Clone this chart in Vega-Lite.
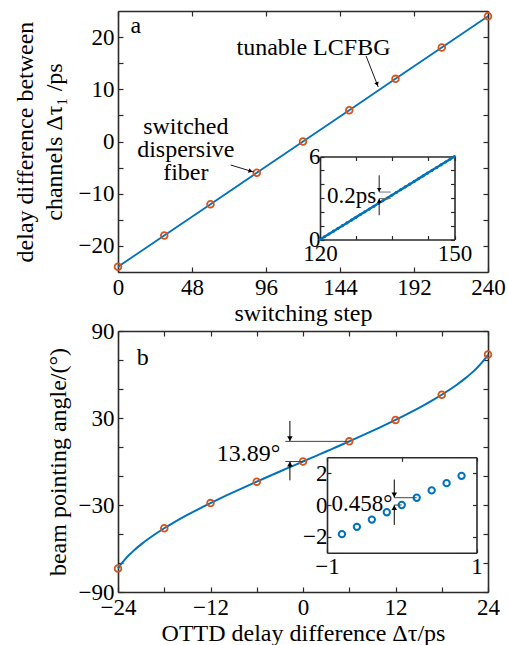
{
  "$schema": "https://vega.github.io/schema/vega-lite/v6.json",
  "background": "white",
  "padding": {"left": 13, "top": 9, "right": 5, "bottom": 5},
  "spacing": 59,
  "bounds": "flush",
  "config": {
    "view": {"stroke": null},
    "font": "Liberation Serif",
    "axis": {
      "grid": false,
      "labelFont": "Liberation Serif",
      "titleFont": "Liberation Serif",
      "labelFontSize": 23,
      "titleFontSize": 24,
      "titleFontWeight": "normal",
      "labelColor": "black",
      "titleColor": "black",
      "domainColor": "#2a2a2a",
      "domainWidth": 1.6,
      "tickColor": "#2a2a2a",
      "tickWidth": 1.2,
      "tickSize": -5,
      "labelPadding": 9,
      "labelFlush": false,
      "labelOverlap": false,
      "labelBound": false
    },
    "text": {"font": "Liberation Serif"}
  },
  "datasets": {
    "a_pts": [
      {"step": 0, "delay": -24}, {"step": 30, "delay": -18}, {"step": 60, "delay": -12},
      {"step": 90, "delay": -6}, {"step": 120, "delay": 0}, {"step": 150, "delay": 6},
      {"step": 180, "delay": 12}, {"step": 210, "delay": 18}, {"step": 240, "delay": 24}
    ],
    "a_inset": [
      {"step": 120, "delay": 0}, {"step": 121, "delay": 0.2}, {"step": 122, "delay": 0.4},
      {"step": 123, "delay": 0.6}, {"step": 124, "delay": 0.8}, {"step": 125, "delay": 1.0},
      {"step": 126, "delay": 1.2}, {"step": 127, "delay": 1.4}, {"step": 128, "delay": 1.6},
      {"step": 129, "delay": 1.8}, {"step": 130, "delay": 2.0}, {"step": 131, "delay": 2.2},
      {"step": 132, "delay": 2.4}, {"step": 133, "delay": 2.6}, {"step": 134, "delay": 2.8},
      {"step": 135, "delay": 3.0}, {"step": 136, "delay": 3.2}, {"step": 137, "delay": 3.4},
      {"step": 138, "delay": 3.6}, {"step": 139, "delay": 3.8}, {"step": 140, "delay": 4.0},
      {"step": 141, "delay": 4.2}, {"step": 142, "delay": 4.4}, {"step": 143, "delay": 4.6},
      {"step": 144, "delay": 4.8}, {"step": 145, "delay": 5.0}, {"step": 146, "delay": 5.2},
      {"step": 147, "delay": 5.4}, {"step": 148, "delay": 5.6}, {"step": 149, "delay": 5.8},
      {"step": 150, "delay": 6.0}
    ],
    "b_curve": [
      {"tau": -24, "ang": -73.74}, {"tau": -23.75, "ang": -71.81}, {"tau": -23.5, "ang": -70.05},
      {"tau": -23, "ang": -66.93}, {"tau": -22.5, "ang": -64.16}, {"tau": -22, "ang": -61.64},
      {"tau": -21, "ang": -57.14}, {"tau": -20, "ang": -53.13}, {"tau": -19, "ang": -49.46},
      {"tau": -18, "ang": -46.05}, {"tau": -17, "ang": -42.84}, {"tau": -16, "ang": -39.79},
      {"tau": -15, "ang": -36.87}, {"tau": -14, "ang": -34.06}, {"tau": -13, "ang": -31.33},
      {"tau": -12, "ang": -28.69}, {"tau": -11, "ang": -26.10}, {"tau": -10, "ang": -23.58},
      {"tau": -9, "ang": -21.10}, {"tau": -8, "ang": -18.66}, {"tau": -7, "ang": -16.26},
      {"tau": -6, "ang": -13.89}, {"tau": -5, "ang": -11.54}, {"tau": -4, "ang": -9.21},
      {"tau": -3, "ang": -6.89}, {"tau": -2, "ang": -4.59}, {"tau": -1, "ang": -2.29},
      {"tau": 0, "ang": 0},
      {"tau": 1, "ang": 2.29}, {"tau": 2, "ang": 4.59}, {"tau": 3, "ang": 6.89},
      {"tau": 4, "ang": 9.21}, {"tau": 5, "ang": 11.54}, {"tau": 6, "ang": 13.89},
      {"tau": 7, "ang": 16.26}, {"tau": 8, "ang": 18.66}, {"tau": 9, "ang": 21.10},
      {"tau": 10, "ang": 23.58}, {"tau": 11, "ang": 26.10}, {"tau": 12, "ang": 28.69},
      {"tau": 13, "ang": 31.33}, {"tau": 14, "ang": 34.06}, {"tau": 15, "ang": 36.87},
      {"tau": 16, "ang": 39.79}, {"tau": 17, "ang": 42.84}, {"tau": 18, "ang": 46.05},
      {"tau": 19, "ang": 49.46}, {"tau": 20, "ang": 53.13}, {"tau": 21, "ang": 57.14},
      {"tau": 22, "ang": 61.64}, {"tau": 22.5, "ang": 64.16}, {"tau": 23, "ang": 66.93},
      {"tau": 23.5, "ang": 70.05}, {"tau": 23.75, "ang": 71.81}, {"tau": 24, "ang": 73.74}
    ],
    "b_pts": [
      {"tau": -24, "ang": -73.74}, {"tau": -18, "ang": -46.05}, {"tau": -12, "ang": -28.69},
      {"tau": -6, "ang": -13.89}, {"tau": 0, "ang": 0}, {"tau": 6, "ang": 13.89},
      {"tau": 12, "ang": 28.69}, {"tau": 18, "ang": 46.05}, {"tau": 24, "ang": 73.74}
    ],
    "b_inset": [
      {"tau": -0.8, "ang": -1.834}, {"tau": -0.6, "ang": -1.375}, {"tau": -0.4, "ang": -0.917},
      {"tau": -0.2, "ang": -0.458}, {"tau": 0, "ang": 0}, {"tau": 0.2, "ang": 0.458},
      {"tau": 0.4, "ang": 0.917}, {"tau": 0.6, "ang": 1.375}, {"tau": 0.8, "ang": 1.834}
    ]
  },
  "vconcat": [
    {
      "width": 370,
      "height": 261,
      "resolve": {"scale": {"x": "independent", "y": "independent"}, "axis": {"x": "independent", "y": "independent"}},
      "layer": [
        {
          "data": {"name": "a_pts"},
          "mark": {"type": "line", "color": "#0072BD", "strokeWidth": 1.8},
          "encoding": {
            "x": {"field": "step", "type": "quantitative", "scale": {"domain": [0, 240], "nice": false, "zero": false},
                  "axis": {"orient": "bottom", "values": [0, 48, 96, 144, 192, 240], "title": "switching step", "titlePadding": 2}},
            "y": {"field": "delay", "type": "quantitative", "scale": {"domain": [-25, 25], "nice": false, "zero": false},
                  "axis": {"orient": "left", "values": [-20, -15, -10, -5, 0, 5, 10, 15, 20],
                           "labelExpr": "datum.value % 10 == 0 ? datum.label : ''",
                           "title": ["delay difference between", "channels Δτ₁ /ps"], "titleLineHeight": 29, "titlePadding": 12}}
          }
        },
        {
          "data": {"name": "a_pts"},
          "mark": {"type": "point", "shape": "circle", "filled": false, "color": "#D95319", "strokeWidth": 1.8, "size": 45, "opacity": 1},
          "encoding": {
            "x": {"field": "step", "type": "quantitative", "scale": {"domain": [0, 240], "nice": false, "zero": false},
                  "axis": {"orient": "top", "values": [0, 48, 96, 144, 192, 240], "labels": false, "title": null}},
            "y": {"field": "delay", "type": "quantitative", "scale": {"domain": [-25, 25], "nice": false, "zero": false},
                  "axis": {"orient": "right", "values": [-20, -15, -10, -5, 0, 5, 10, 15, 20], "labels": false, "title": null}}
          }
        },
        {
          "data": {"values": [
            {"x": 11.6, "y": 22.1, "t": "a"},
            {"x": 126.8, "y": 17.9, "t": "tunable LCFBG"},
            {"x": 44, "y": 2.78, "t": "switched\ndispersive\nfiber"}
          ]},
          "mark": {"type": "text", "fontSize": 24, "align": "center", "baseline": "middle", "lineHeight": 23, "lineBreak": "\n", "color": "black"},
          "encoding": {
            "x": {"field": "x", "type": "quantitative", "scale": {"domain": [0, 240], "nice": false, "zero": false}, "axis": null},
            "y": {"field": "y", "type": "quantitative", "scale": {"domain": [-25, 25], "nice": false, "zero": false}, "axis": null},
            "text": {"field": "t"}
          }
        },
        {
          "data": {"values": [
            {"x": 160.9, "y": 16.4, "x2": 168.8, "y2": 10.44},
            {"x": 73.1, "y": -4.5, "x2": 88, "y2": -5.84}
          ]},
          "mark": {"type": "rule", "color": "black", "strokeWidth": 0.9},
          "encoding": {
            "x": {"field": "x", "type": "quantitative", "scale": {"domain": [0, 240], "nice": false, "zero": false}, "axis": null},
            "y": {"field": "y", "type": "quantitative", "scale": {"domain": [-25, 25], "nice": false, "zero": false}, "axis": null},
            "x2": {"field": "x2"},
            "y2": {"field": "y2"}
          }
        },
        {
          "data": {"values": [
            {"x": 168.1, "y": 10.98, "ang": 158.4},
            {"x": 86.0, "y": -5.67, "ang": 106.9}
          ]},
          "mark": {"type": "point", "shape": "triangle-up", "filled": true, "color": "black", "size": 22, "opacity": 1},
          "encoding": {
            "x": {"field": "x", "type": "quantitative", "scale": {"domain": [0, 240], "nice": false, "zero": false}, "axis": null},
            "y": {"field": "y", "type": "quantitative", "scale": {"domain": [-25, 25], "nice": false, "zero": false}, "axis": null},
            "angle": {"field": "ang", "type": "quantitative", "scale": null}
          }
        },
        {
          "data": {"name": "a_inset"},
          "mark": {"type": "line", "color": "#0072BD", "strokeWidth": 2.4, "point": {"filled": true, "size": 10, "color": "#0072BD"}},
          "encoding": {
            "x": {"field": "step", "type": "quantitative", "scale": {"domain": [120, 150], "range": [202, 336.5], "nice": false, "zero": false},
                  "axis": {"orient": "bottom", "offset": -32.5, "values": [120, 128, 136, 144, 150],
                           "labelExpr": "datum.value == 120 || datum.value == 150 ? datum.label : ''", "title": null, "tickSize": -4, "labelPadding": 7}},
            "y": {"field": "delay", "type": "quantitative", "scale": {"domain": [0, 6], "range": [228.5, 145.5], "nice": false, "zero": false},
                  "axis": {"orient": "left", "offset": -202, "values": [0, 1, 2, 3, 4, 5, 6],
                           "labelExpr": "datum.value == 0 || datum.value == 6 ? datum.label : ''", "title": null, "tickSize": -4, "labelPadding": 4}}
          }
        },
        {
          "data": {"values": [
            {"x": 133.2, "y": 4.64, "x2": 133.2, "y2": 3.43, "c": "black"},
            {"x": 133.2, "y": 1.75, "x2": 133.2, "y2": 2.96, "c": "black"},
            {"x": 133.2, "y": 3.43, "x2": 135.8, "y2": 3.43, "c": "#666666"},
            {"x": 133.2, "y": 2.96, "x2": 135.8, "y2": 2.96, "c": "#666666"}
          ]},
          "mark": {"type": "rule", "strokeWidth": 0.9},
          "encoding": {
            "x": {"field": "x", "type": "quantitative", "scale": {"domain": [120, 150], "range": [202, 336.5], "nice": false, "zero": false},
                  "axis": {"orient": "top", "offset": -145.5, "values": [120, 128, 136, 144, 150], "labels": false, "title": null, "tickSize": -4}},
            "y": {"field": "y", "type": "quantitative", "scale": {"domain": [0, 6], "range": [228.5, 145.5], "nice": false, "zero": false},
                  "axis": {"orient": "right", "offset": -33.5, "values": [0, 1, 2, 3, 4, 5, 6], "labels": false, "title": null, "tickSize": -4}},
            "x2": {"field": "x2"},
            "y2": {"field": "y2"},
            "color": {"field": "c", "type": "nominal", "scale": null}
          }
        },
        {
          "data": {"values": [
            {"x": 133.2, "y": 3.59, "ang": 180},
            {"x": 133.2, "y": 2.80, "ang": 0}
          ]},
          "mark": {"type": "point", "shape": "triangle-up", "filled": true, "color": "black", "size": 20, "opacity": 1},
          "encoding": {
            "x": {"field": "x", "type": "quantitative", "scale": {"domain": [120, 150], "range": [202, 336.5], "nice": false, "zero": false}, "axis": null},
            "y": {"field": "y", "type": "quantitative", "scale": {"domain": [0, 6], "range": [228.5, 145.5], "nice": false, "zero": false}, "axis": null},
            "angle": {"field": "ang", "type": "quantitative", "scale": null}
          }
        },
        {
          "data": {"values": [{"x": 127.05, "y": 3.14, "t": "0.2ps"}]},
          "mark": {"type": "text", "fontSize": 23, "align": "center", "baseline": "middle", "color": "black"},
          "encoding": {
            "x": {"field": "x", "type": "quantitative", "scale": {"domain": [120, 150], "range": [202, 336.5], "nice": false, "zero": false}, "axis": null},
            "y": {"field": "y", "type": "quantitative", "scale": {"domain": [0, 6], "range": [228.5, 145.5], "nice": false, "zero": false}, "axis": null},
            "text": {"field": "t"}
          }
        }
      ]
    },
    {
      "width": 370,
      "height": 261,
      "resolve": {"scale": {"x": "independent", "y": "independent"}, "axis": {"x": "independent", "y": "independent"}},
      "layer": [
        {
          "data": {"name": "b_curve"},
          "mark": {"type": "line", "color": "#0072BD", "strokeWidth": 2, "interpolate": "monotone"},
          "encoding": {
            "x": {"field": "tau", "type": "quantitative", "scale": {"domain": [-24, 24], "nice": false, "zero": false},
                  "axis": {"orient": "bottom", "values": [-24, -18, -12, -6, 0, 6, 12, 18, 24],
                           "labelExpr": "datum.value % 12 == 0 ? datum.label : ''",
                           "title": "OTTD delay difference Δτ/ps", "titlePadding": 2}},
            "y": {"field": "ang", "type": "quantitative", "scale": {"domain": [-90, 90], "nice": false, "zero": false},
                  "axis": {"orient": "left", "values": [-90, -70, -50, -30, -10, 10, 30, 50, 70, 90],
                           "labelExpr": "abs(datum.value) == 30 || abs(datum.value) == 90 ? datum.label : ''",
                           "title": "beam pointing angle/(°)", "titlePadding": 8}}
          }
        },
        {
          "data": {"name": "b_pts"},
          "mark": {"type": "point", "shape": "circle", "filled": false, "color": "#D95319", "strokeWidth": 1.8, "size": 45, "opacity": 1},
          "encoding": {
            "x": {"field": "tau", "type": "quantitative", "scale": {"domain": [-24, 24], "nice": false, "zero": false},
                  "axis": {"orient": "top", "values": [-24, -18, -12, -6, 0, 6, 12, 18, 24], "labels": false, "title": null}},
            "y": {"field": "ang", "type": "quantitative", "scale": {"domain": [-90, 90], "nice": false, "zero": false},
                  "axis": {"orient": "right", "values": [-90, -70, -50, -30, -10, 10, 30, 50, 70, 90], "labels": false, "title": null}}
          }
        },
        {
          "data": {"values": [
            {"x": -20.8, "y": 71.7, "t": "b"},
            {"x": -7.05, "y": 5.3, "t": "13.89°"}
          ]},
          "mark": {"type": "text", "fontSize": 24, "align": "center", "baseline": "middle", "color": "black"},
          "encoding": {
            "x": {"field": "x", "type": "quantitative", "scale": {"domain": [-24, 24], "nice": false, "zero": false}, "axis": null},
            "y": {"field": "y", "type": "quantitative", "scale": {"domain": [-90, 90], "nice": false, "zero": false}, "axis": null},
            "text": {"field": "t"}
          }
        },
        {
          "data": {"values": [
            {"x": -1.7, "y": 28, "x2": -1.7, "y2": 13.89, "c": "black"},
            {"x": -1.7, "y": -13, "x2": -1.7, "y2": 0, "c": "black"},
            {"x": -2.3, "y": 13.89, "x2": 6, "y2": 13.89, "c": "#444444"},
            {"x": -2.3, "y": 0, "x2": 0, "y2": 0, "c": "#444444"}
          ]},
          "mark": {"type": "rule", "strokeWidth": 1},
          "encoding": {
            "x": {"field": "x", "type": "quantitative", "scale": {"domain": [-24, 24], "nice": false, "zero": false}, "axis": null},
            "y": {"field": "y", "type": "quantitative", "scale": {"domain": [-90, 90], "nice": false, "zero": false}, "axis": null},
            "x2": {"field": "x2"},
            "y2": {"field": "y2"},
            "color": {"field": "c", "type": "nominal", "scale": null}
          }
        },
        {
          "data": {"values": [
            {"x": -1.7, "y": 15.77, "ang": 180},
            {"x": -1.7, "y": -1.88, "ang": 0}
          ]},
          "mark": {"type": "point", "shape": "triangle-up", "filled": true, "color": "black", "size": 30, "opacity": 1},
          "encoding": {
            "x": {"field": "x", "type": "quantitative", "scale": {"domain": [-24, 24], "nice": false, "zero": false}, "axis": null},
            "y": {"field": "y", "type": "quantitative", "scale": {"domain": [-90, 90], "nice": false, "zero": false}, "axis": null},
            "angle": {"field": "ang", "type": "quantitative", "scale": null}
          }
        },
        {
          "data": {"name": "b_inset"},
          "mark": {"type": "point", "shape": "circle", "filled": false, "color": "#0072BD", "strokeWidth": 2, "size": 40, "opacity": 1},
          "encoding": {
            "x": {"field": "tau", "type": "quantitative", "scale": {"domain": [-1, 1], "range": [209, 358.5], "nice": false, "zero": false},
                  "axis": {"orient": "bottom", "offset": -39.3, "values": [-1, 0, 1], "format": "d", "title": null, "tickSize": -4, "labelPadding": 7}},
            "y": {"field": "ang", "type": "quantitative", "scale": {"domain": [-3, 3], "range": [221.7, 126.3], "nice": false, "zero": false},
                  "axis": {"orient": "left", "offset": -209, "values": [-2, 0, 2], "format": "d", "title": null, "tickSize": -4, "labelPadding": 4}}
          }
        },
        {
          "data": {"values": [
            {"x": -0.1, "y": 1.6, "x2": -0.1, "y2": 0.458, "c": "black"},
            {"x": -0.1, "y": -1.25, "x2": -0.1, "y2": 0, "c": "black"},
            {"x": -0.1, "y": 0.458, "x2": 0.2, "y2": 0.458, "c": "#444444"},
            {"x": -0.1, "y": 0, "x2": 0, "y2": 0, "c": "#444444"}
          ]},
          "mark": {"type": "rule", "strokeWidth": 1},
          "encoding": {
            "x": {"field": "x", "type": "quantitative", "scale": {"domain": [-1, 1], "range": [209, 358.5], "nice": false, "zero": false},
                  "axis": {"orient": "top", "offset": -126.3, "values": [-1, 0, 1], "labels": false, "title": null, "tickSize": -4}},
            "y": {"field": "y", "type": "quantitative", "scale": {"domain": [-3, 3], "range": [221.7, 126.3], "nice": false, "zero": false},
                  "axis": {"orient": "right", "offset": -11.5, "values": [-2, 0, 2], "labels": false, "title": null, "tickSize": -4}},
            "x2": {"field": "x2"},
            "y2": {"field": "y2"},
            "color": {"field": "c", "type": "nominal", "scale": null}
          }
        },
        {
          "data": {"values": [
            {"x": -0.1, "y": 0.63, "ang": 180},
            {"x": -0.1, "y": -0.17, "ang": 0}
          ]},
          "mark": {"type": "point", "shape": "triangle-up", "filled": true, "color": "black", "size": 30, "opacity": 1},
          "encoding": {
            "x": {"field": "x", "type": "quantitative", "scale": {"domain": [-1, 1], "range": [209, 358.5], "nice": false, "zero": false}, "axis": null},
            "y": {"field": "y", "type": "quantitative", "scale": {"domain": [-3, 3], "range": [221.7, 126.3], "nice": false, "zero": false}, "axis": null},
            "angle": {"field": "ang", "type": "quantitative", "scale": null}
          }
        },
        {
          "data": {"values": [{"x": -0.532, "y": 0.05, "t": "0.458°"}]},
          "mark": {"type": "text", "fontSize": 23, "align": "center", "baseline": "middle", "color": "black"},
          "encoding": {
            "x": {"field": "x", "type": "quantitative", "scale": {"domain": [-1, 1], "range": [209, 358.5], "nice": false, "zero": false}, "axis": null},
            "y": {"field": "y", "type": "quantitative", "scale": {"domain": [-3, 3], "range": [221.7, 126.3], "nice": false, "zero": false}, "axis": null},
            "text": {"field": "t"}
          }
        }
      ]
    }
  ]
}
